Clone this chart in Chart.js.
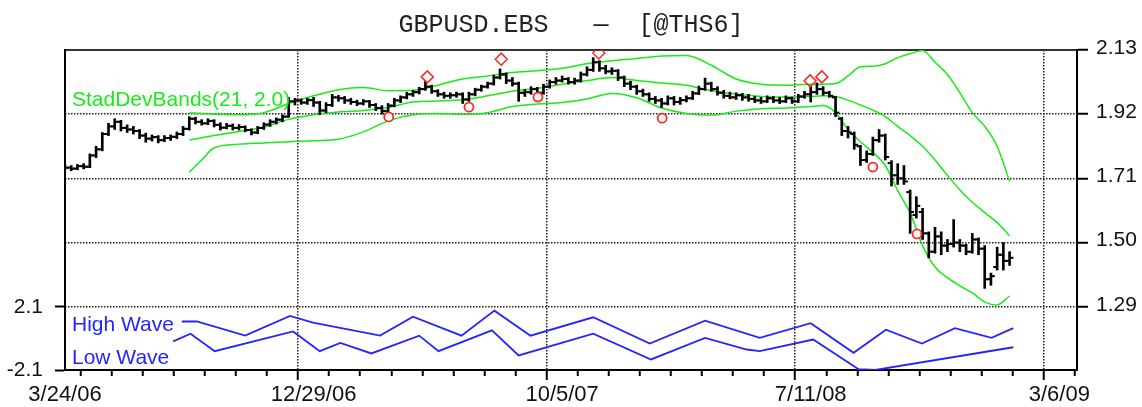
<!DOCTYPE html>
<html>
<head>
<meta charset="utf-8">
<title>GBPUSD.EBS</title>
<script src="https://cdn.jsdelivr.net/npm/chart.js@4.4.1/dist/chart.umd.min.js"></script>
<style>
  html, body { margin: 0; padding: 0; background: #fff; }
  #wrap { width: 1142px; height: 407px; }
</style>
</head>
<body>
<div id="wrap"><canvas id="chart" width="1142" height="407"></canvas></div>
<script>
// weekly bars, index 0 = 3/24/06
const opens = [1.748,1.745,1.742,1.750,1.748,1.785,1.805,1.855,1.880,1.895,1.875,1.870,1.865,1.850,1.840,1.845,1.835,1.842,1.846,1.855,
  1.872,1.905,1.895,1.890,1.898,1.885,1.876,1.882,1.875,1.878,1.868,1.860,1.875,1.886,1.895,1.902,1.912,1.962,1.965,1.958,
  1.966,1.958,1.932,1.950,1.975,1.972,1.965,1.960,1.955,1.962,1.950,1.940,1.930,1.948,1.965,1.975,1.985,1.992,2.002,2.010,
  1.995,1.985,1.980,1.982,1.985,1.968,1.985,2.000,2.010,2.020,2.040,2.050,2.030,2.020,1.990,1.992,2.002,1.990,2.010,2.025,
  2.030,2.035,2.025,2.030,2.050,2.065,2.090,2.070,2.060,2.062,2.040,2.020,2.010,1.995,1.985,1.970,1.965,1.955,1.972,1.960,
  1.966,1.972,1.988,2.002,2.020,2.002,1.990,1.980,1.975,1.982,1.975,1.970,1.965,1.962,1.972,1.965,1.962,1.972,1.962,1.978,
  1.985,1.992,2.002,1.990,1.975,1.905,1.865,1.855,1.815,1.770,1.790,1.835,1.850,1.760,1.720,1.710,1.665,1.590,1.600,1.530,
  1.470,1.520,1.490,1.495,1.500,1.490,1.470,1.510,1.480,1.380,1.420,1.460,1.440];
const highs = [1.755,1.752,1.756,1.758,1.790,1.815,1.860,1.890,1.905,1.900,1.885,1.880,1.870,1.858,1.852,1.850,1.850,1.852,1.862,1.880,
  1.912,1.910,1.902,1.905,1.902,1.892,1.890,1.888,1.886,1.882,1.872,1.880,1.892,1.902,1.908,1.918,1.975,1.972,1.970,1.972,
  1.975,1.962,1.958,1.985,1.982,1.978,1.972,1.966,1.968,1.965,1.955,1.948,1.955,1.972,1.980,1.992,1.998,2.008,2.028,2.015,
  2.000,1.992,1.990,1.992,1.990,1.992,2.005,2.015,2.025,2.048,2.068,2.055,2.040,2.025,2.000,2.010,2.008,2.018,2.032,2.040,
  2.045,2.040,2.038,2.058,2.075,2.105,2.095,2.080,2.072,2.066,2.045,2.028,2.015,2.002,1.990,1.978,1.972,1.980,1.978,1.975,
  1.980,1.995,2.012,2.038,2.025,2.010,1.998,1.992,1.990,1.988,1.985,1.978,1.975,1.980,1.978,1.975,1.980,1.976,1.985,1.995,
  2.012,2.022,2.010,1.995,1.978,1.910,1.880,1.862,1.818,1.800,1.845,1.870,1.855,1.768,1.758,1.752,1.672,1.650,1.612,1.535,
  1.550,1.535,1.510,1.575,1.510,1.495,1.530,1.515,1.490,1.400,1.485,1.500,1.470];
const lows = [1.738,1.735,1.738,1.741,1.745,1.778,1.800,1.850,1.870,1.865,1.860,1.855,1.840,1.828,1.832,1.826,1.830,1.834,1.840,1.850,
  1.868,1.888,1.884,1.886,1.878,1.868,1.872,1.868,1.868,1.862,1.852,1.856,1.870,1.880,1.888,1.895,1.910,1.950,1.952,1.952,
  1.945,1.918,1.925,1.945,1.962,1.955,1.952,1.948,1.950,1.942,1.932,1.920,1.925,1.944,1.958,1.970,1.978,1.986,1.998,1.988,
  1.978,1.972,1.972,1.975,1.955,1.962,1.980,1.995,2.005,2.015,2.035,2.020,2.012,1.962,1.978,1.985,1.980,1.985,2.005,2.018,
  2.025,2.018,2.018,2.025,2.045,2.060,2.060,2.052,2.050,2.030,2.010,2.000,1.985,1.978,1.962,1.955,1.942,1.950,1.950,1.952,
  1.960,1.968,1.984,1.998,1.995,1.982,1.972,1.970,1.968,1.965,1.962,1.958,1.955,1.958,1.958,1.955,1.958,1.955,1.958,1.972,
  1.960,1.985,1.982,1.975,1.912,1.850,1.842,1.805,1.752,1.762,1.785,1.828,1.770,1.685,1.690,1.690,1.530,1.580,1.510,1.450,
  1.465,1.460,1.470,1.485,1.470,1.460,1.465,1.460,1.350,1.360,1.410,1.410,1.425];
const closes = [1.745,1.742,1.750,1.748,1.785,1.805,1.855,1.880,1.895,1.875,1.870,1.865,1.850,1.840,1.845,1.835,1.842,1.846,1.855,1.872,
  1.905,1.895,1.890,1.898,1.885,1.876,1.882,1.875,1.878,1.868,1.860,1.875,1.886,1.895,1.902,1.912,1.962,1.965,1.958,1.966,
  1.958,1.932,1.950,1.975,1.972,1.965,1.960,1.955,1.962,1.950,1.940,1.930,1.948,1.965,1.975,1.985,1.992,2.002,2.010,1.995,
  1.985,1.980,1.982,1.985,1.968,1.985,2.000,2.010,2.020,2.040,2.050,2.030,2.020,1.990,1.992,2.002,1.990,2.010,2.025,2.030,
  2.035,2.025,2.030,2.050,2.065,2.090,2.070,2.060,2.062,2.040,2.020,2.010,1.995,1.985,1.970,1.965,1.955,1.972,1.960,1.966,
  1.972,1.988,2.002,2.020,2.002,1.990,1.980,1.975,1.982,1.975,1.970,1.965,1.962,1.972,1.965,1.962,1.972,1.962,1.978,1.985,
  1.992,2.002,1.990,1.980,1.925,1.865,1.860,1.820,1.770,1.790,1.835,1.850,1.780,1.720,1.710,1.700,1.600,1.620,1.530,1.470,
  1.520,1.490,1.495,1.500,1.490,1.470,1.510,1.480,1.380,1.390,1.460,1.440,1.450];

// x axis labels (bar index -> date)
const dateLabels = ['3/24/06', '12/29/06', '10/5/07', '7/11/08', '3/6/09'];
const dateLabelIdx = [0, 40, 80, 120, 160];
const minorTickIdx = [0,5,10,15,20,25,30,35,40,45,50,55,60,65,70,75,80,85,90,95,100,105,110,115,120,125,130,135,140,145,150,155,160];
const priceTicks = [1.29, 1.50, 1.71, 1.92, 2.13];
const waveTicks = [-2.1, 2.1];

// StadDevBands(21, 2.0)
const bandIdx = [20,22,24,28,32,36,40,44,48,52,56,60,64,68,72,76,80,84,88,92,96,100,104,108,112,116,120,122,124,126,128,130,132,134,136,138,140,142,144,146,148,150,152];
const bandUpper = [1.925,1.922,1.920,1.918,1.925,1.955,1.980,2.000,2.007,1.997,1.998,2.015,2.035,2.045,2.056,2.062,2.070,2.085,2.095,2.102,2.110,2.112,2.080,2.035,2.018,2.015,2.018,2.018,2.020,2.045,2.075,2.077,2.085,2.105,2.118,2.128,2.090,2.050,1.990,1.925,1.880,1.815,1.700];
const bandMiddle = [1.835,1.843,1.850,1.863,1.878,1.903,1.918,1.927,1.932,1.942,1.960,1.963,1.967,1.980,1.995,2.005,2.018,2.030,2.040,2.030,2.022,2.015,1.997,1.986,1.978,1.976,1.978,1.980,1.978,1.966,1.950,1.933,1.912,1.880,1.850,1.815,1.770,1.720,1.672,1.632,1.598,1.565,1.522];
const bandLower = [1.730,1.770,1.810,1.822,1.826,1.830,1.833,1.838,1.862,1.898,1.918,1.922,1.920,1.925,1.945,1.953,1.958,1.970,1.988,1.974,1.940,1.922,1.917,1.930,1.938,1.940,1.945,1.948,1.925,1.870,1.830,1.795,1.752,1.670,1.597,1.490,1.420,1.385,1.358,1.335,1.305,1.296,1.325];

// High Wave / Low Wave
const highWaveIdx = [18.8,21.2,29.0,36.2,39.9,50.7,56.0,63.8,69.1,74.9,85.0,94.1,103.0,111.8,120.0,126.9,132.1,137.9,143.2,149.1,152.6];
const highWave = [1.12,1.12,0.18,1.49,1.05,0.18,1.44,0.18,1.84,0.18,1.40,-0.35,1.18,0.03,1.01,-0.96,0.57,-0.35,0.68,0.03,0.68];
const lowWaveIdx = [17.4,20.2,24.1,36.7,41.0,44.3,49.3,57.0,60.1,68.7,73.0,85.0,94.3,103.0,109.7,111.8,120.4,127.7,130.4,152.6];
const lowWave = [-0.20,0.31,-0.85,0.46,-0.85,-0.30,-1.00,0.18,-0.85,0.53,-1.13,0.31,-1.40,0.03,-0.74,-0.85,-0.08,-2.05,-2.10,-0.59];

// swing markers
const swingHighIdx = [58.3, 70.2, 85.9, 119.9, 121.8];
const swingHigh = [2.042, 2.100, 2.120, 2.029, 2.042];
const swingLowIdx = [52.1, 65.0, 76.1, 96.1, 130.0, 137.1];
const swingLow = [1.911, 1.943, 1.976, 1.907, 1.747, 1.528];

const GREEN = 'rgb(24,236,24)';
const BLUE = 'rgb(36,36,255)';
const RED = 'rgb(255,40,40)';
const tickOff = 0.3;   // open / close tick offset in bars
const isMajor = v => dateLabelIdx.includes(v);

const pts = (xs, ys) => xs.map((x, i) => ({x: x, y: ys[i]}));

// text labels inside the panels
const panelText = {
  id: 'panelText',
  afterDatasetsDraw(chart) {
    const c = chart.ctx;
    const items = [
      {t: 'StadDevBands(21, 2.0)', col: GREEN, y: 106},
      {t: 'High Wave', col: BLUE, y: 331},
      {t: 'Low Wave', col: BLUE, y: 364}
    ];
    c.save();
    c.font = '21px "Liberation Sans", Arial, sans-serif';
    c.textBaseline = 'alphabetic';
    items.forEach(it => {
      c.fillStyle = it.col;
      c.fillText(it.t, chart.chartArea.left + 7, it.y);
    });
    c.restore();
  }
};

const tickFont = {family: '"Liberation Sans", Arial, sans-serif', size: 21};

let ctx = document.getElementById('chart').getContext('2d');
let chart = new Chart(ctx, {
  type: 'line',
  data: {
    datasets: [
      {
        type: 'bar', label: 'range', xAxisID: 'x', yAxisID: 'price',
        data: closes.map((_, i) => ({x: i, y: [lows[i], highs[i]]})),
        backgroundColor: '#000', barThickness: 2, order: 2
      },
      {
        type: 'scatter', label: 'open', xAxisID: 'x', yAxisID: 'price',
        data: opens.map((v, i) => ({x: i - tickOff, y: v})),
        pointStyle: 'line', pointRadius: 2, pointBorderWidth: 2, borderColor: '#000', order: 1
      },
      {
        type: 'scatter', label: 'close', xAxisID: 'x', yAxisID: 'price',
        data: closes.map((v, i) => ({x: i + tickOff, y: v})),
        pointStyle: 'line', pointRadius: 2, pointBorderWidth: 2, borderColor: '#000', order: 1
      },
      {
        type: 'line', label: 'upper', xAxisID: 'x', yAxisID: 'price',
        data: pts(bandIdx, bandUpper), borderColor: GREEN, borderWidth: 1.5,
        pointRadius: 0, cubicInterpolationMode: 'monotone', order: 5
      },
      {
        type: 'line', label: 'middle', xAxisID: 'x', yAxisID: 'price',
        data: pts(bandIdx, bandMiddle), borderColor: GREEN, borderWidth: 1.5,
        pointRadius: 0, cubicInterpolationMode: 'monotone', order: 5
      },
      {
        type: 'line', label: 'lower', xAxisID: 'x', yAxisID: 'price',
        data: pts(bandIdx, bandLower), borderColor: GREEN, borderWidth: 1.5,
        pointRadius: 0, cubicInterpolationMode: 'monotone', order: 5
      },
      {
        type: 'line', label: 'High Wave', xAxisID: 'x', yAxisID: 'wave',
        data: pts(highWaveIdx, highWave), borderColor: BLUE, borderWidth: 1.8,
        pointRadius: 0, tension: 0, order: 5
      },
      {
        type: 'line', label: 'Low Wave', xAxisID: 'x', yAxisID: 'wave',
        data: pts(lowWaveIdx, lowWave), borderColor: BLUE, borderWidth: 1.8,
        pointRadius: 0, tension: 0, order: 5
      },
      {
        type: 'scatter', label: 'swing high', xAxisID: 'x', yAxisID: 'price',
        data: pts(swingHighIdx, swingHigh), pointStyle: 'rectRot', pointRadius: 6,
        pointBorderWidth: 1.5, borderColor: RED, backgroundColor: 'rgba(0,0,0,0)', order: 0
      },
      {
        type: 'scatter', label: 'swing low', xAxisID: 'x', yAxisID: 'price',
        data: pts(swingLowIdx, swingLow), pointStyle: 'circle', pointRadius: 4.5,
        pointBorderWidth: 1.8, borderColor: RED, backgroundColor: '#fff', order: 0
      }
    ]
  },
  options: {
    responsive: false,
    animation: false,
    events: [],
    layout: {padding: 0},
    plugins: {
      legend: {display: false},
      tooltip: {enabled: false},
      title: {
        display: true,
        text: 'GBPUSD.EBS   \u2014  [@THS6]',
        color: '#222',
        font: {family: '"Liberation Mono", "Courier New", monospace', size: 25, weight: 'normal'},
        padding: {top: 10, bottom: 10}
      }
    },
    scales: {
      x: {
        type: 'linear', position: 'bottom', min: 0, max: 162.85, offset: false,
        afterBuildTicks: s => { s.ticks = minorTickIdx.map(v => ({value: v})); },
        afterFit: s => { s.height = 37; },
        ticks: {
          autoSkip: false, maxRotation: 0, padding: 2, color: '#111',
          font: {family: tickFont.family, size: 22},
          callback: v => { const k = dateLabelIdx.indexOf(v); return k >= 0 ? dateLabels[k] : ''; }
        },
        grid: {
          color: c => (c.tick && isMajor(c.tick.value)) ? '#222' : 'rgba(0,0,0,0)',
          lineWidth: 1.5, tickLength: 10, tickColor: '#000', tickWidth: 2,
          tickBorderDash: c => (c.tick && isMajor(c.tick.value)) ? [] : [5, 40]
        },
        border: {color: '#000', width: 2, dash: [1.5, 1.5]}
      },
      xTop: {
        type: 'linear', position: 'top', min: 0, max: 162.85,
        afterFit: s => { s.height = 0; },
        ticks: {display: false},
        grid: {display: false},
        border: {display: true, color: '#333', width: 2}
      },
      price: {
        type: 'linear', position: 'right', min: 1.0829, max: 2.13,
        afterBuildTicks: s => { s.ticks = priceTicks.map(v => ({value: v})); },
        afterFit: s => { s.width = 65; },
        ticks: {padding: 8, color: '#111', font: tickFont, labelOffset: -2, callback: v => v.toFixed(2)},
        grid: {color: '#222', lineWidth: 1.5, tickLength: 11, tickColor: '#000', tickWidth: 2},
        border: {color: '#000', width: 2, dash: [1.5, 1.5]}
      },
      wave: {
        type: 'linear', position: 'left', min: -2.1, max: 19.14,
        afterBuildTicks: s => { s.ticks = waveTicks.map(v => ({value: v})); },
        afterFit: s => { s.width = 65; },
        ticks: {padding: 12, color: '#111', font: tickFont, callback: v => v.toFixed(1)},
        grid: {drawOnChartArea: false, tickLength: 10, tickColor: '#000', tickWidth: 2},
        border: {color: '#000', width: 2}
      }
    }
  },
  plugins: [panelText]
});
</script>
</body>
</html>
